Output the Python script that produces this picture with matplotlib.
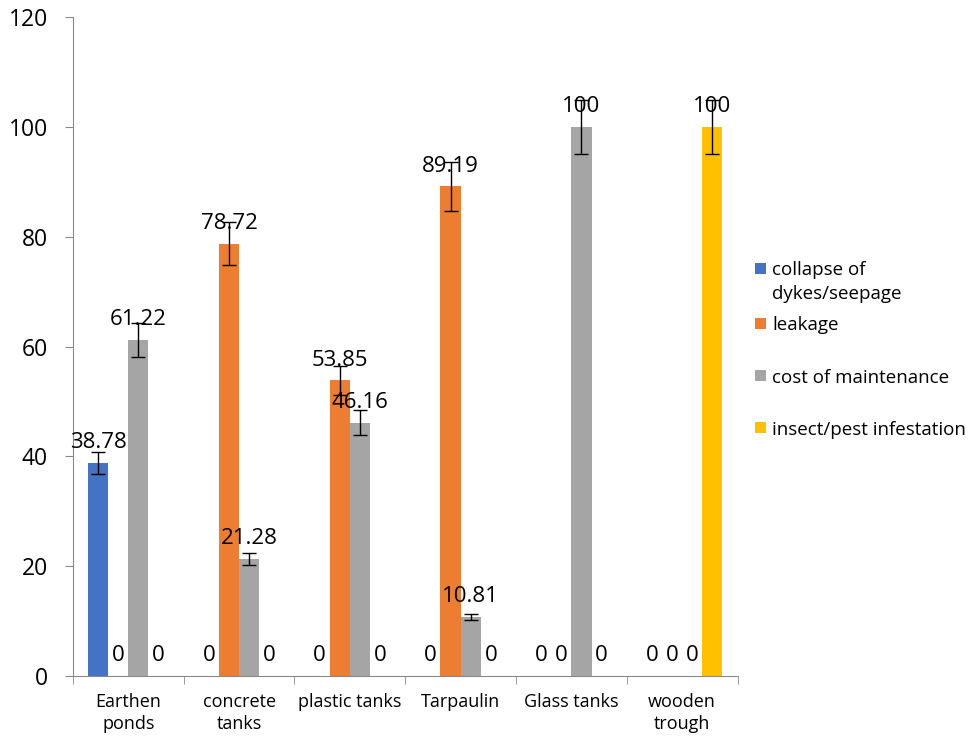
import numpy as np
import matplotlib.pyplot as plt
from matplotlib.patches import Rectangle

plt.rcParams['font.family'] = ['Open Sans', 'DejaVu Sans']

categories = ['Earthen\nponds', 'concrete\ntanks', 'plastic tanks', 'Tarpaulin', 'Glass tanks', 'wooden\ntrough']
series = ['collapse of\ndykes/seepage', 'leakage', 'cost of maintenance', 'insect/pest infestation']
collapse = [38.78, 0, 0, 0, 0, 0]
leakage = [0, 78.72, 53.85, 89.19, 0, 0]
maintenance = [61.22, 21.28, 46.16, 10.81, 100, 0]
insect = [0, 0, 0, 0, 0, 100]
colors = ['#4472C4', '#ED7D31', '#A5A5A5', '#FFC000']
err_pct = 0.05  # percentage error bars

fig = plt.figure(figsize=(9.73, 7.42), dpi=100)
ax = fig.add_axes([0.075, 0.0889, 0.683, 0.888])

x = np.arange(len(categories))
w = 1 / 5.5
for i, (vals, c) in enumerate(zip([collapse, leakage, maintenance, insect], colors)):
    vals = np.array(vals)
    pos = x - 2 * w + w / 2 + i * w
    ax.bar(pos, vals, width=w, color=c, zorder=2)
    nz = vals > 0
    ax.errorbar(pos[nz], vals[nz], yerr=vals[nz] * err_pct, fmt='none',
                ecolor='black', elinewidth=1, capsize=5, capthick=1, zorder=3)
    for p, v in zip(pos, vals):
        lab = '0' if v == 0 else ('%g' % v)
        ax.annotate(lab, (p, v), xytext=(0, 7), textcoords='offset points',
                    ha='center', va='bottom', fontsize=16, zorder=4)

ax.set_xlim(-0.5, len(categories) - 0.5)
ax.set_ylim(0, 120)
ax.set_yticks(np.arange(0, 121, 20))
ax.set_xticks(x)
ax.set_xticklabels(categories, fontsize=13, linespacing=1.3)
ax.set_xticks(np.arange(-0.5, len(categories), 1), minor=True)
ax.tick_params(axis='x', which='major', length=0, pad=12)
ax.tick_params(axis='x', which='minor', length=6, color='#898989')
ax.tick_params(axis='y', length=6, color='#898989', labelsize=16.5, pad=12)
for s in ['top', 'right']:
    ax.spines[s].set_visible(False)
for s in ['left', 'bottom']:
    ax.spines[s].set_color('#898989')

# legend, drawn by hand to keep the Excel spacing
leg_y = [268, 323, 376, 428]
for name, c, yy in zip(series, colors, leg_y):
    fy = 1 - yy / 742
    fig.patches.append(Rectangle((755 / 973, fy - 5.5 / 742), 11 / 973, 11 / 742,
                                 facecolor=c, transform=fig.transFigure))
    fig.text(772 / 973, fy + 7 / 742, name, fontsize=13.5, va='top', ha='left',
             linespacing=1.45)

fig.savefig('out.png', dpi=100)
